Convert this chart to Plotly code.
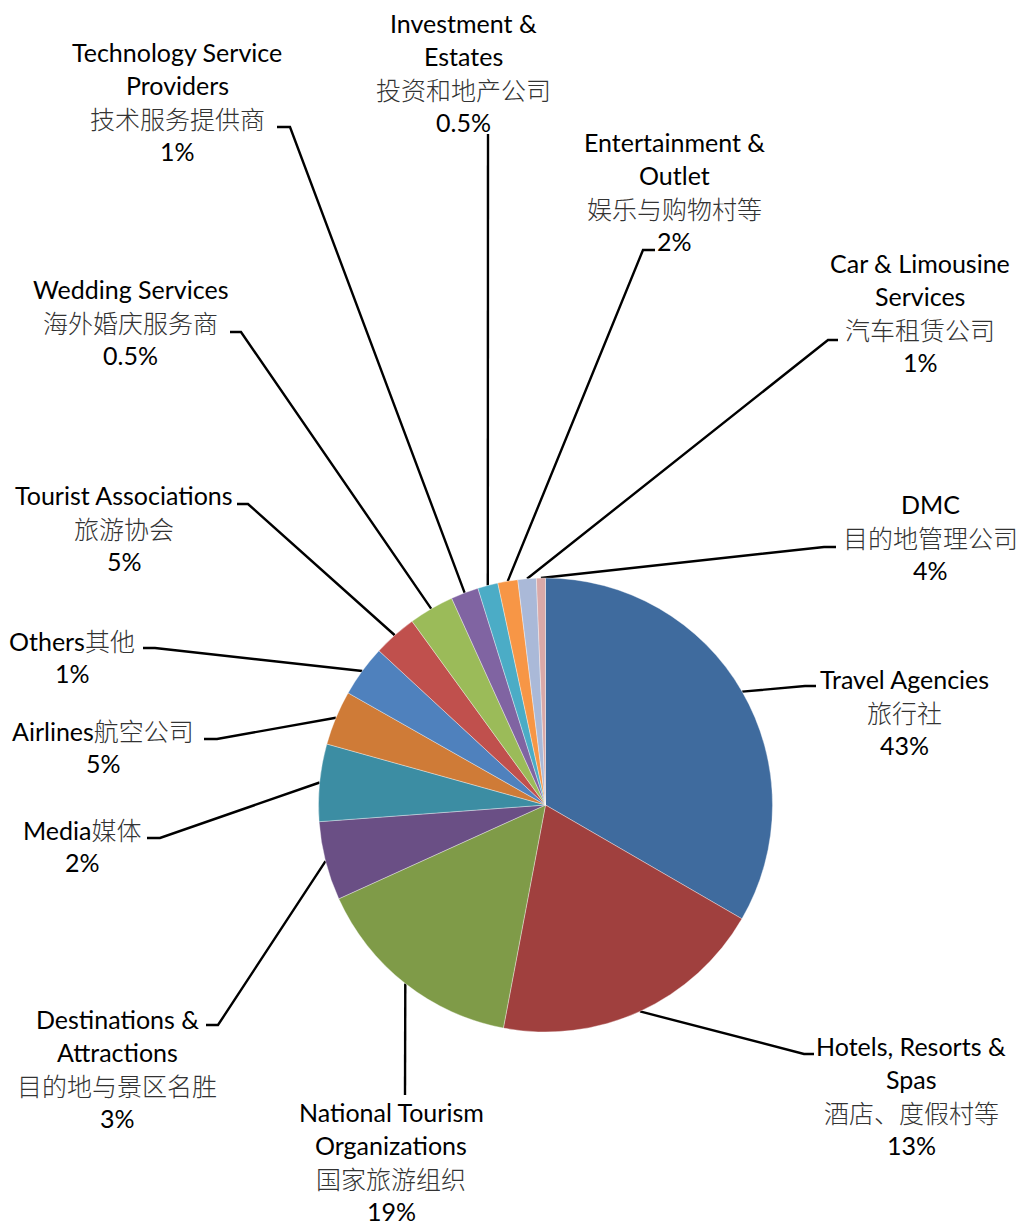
import math
import plotly.graph_objects as go

# ---------------- data ----------------
categories = [
    "Travel Agencies", "Hotels, Resorts & Spas", "National Tourism Organizations",
    "Destinations & Attractions", "Media", "Airlines", "Others",
    "Tourist Associations", "Wedding Services", "Technology Service Providers",
    "Investment & Estates", "Entertainment & Outlet", "Car & Limousine Services", "DMC",
]
values = [33.36, 19.61, 15.25, 5.61, 5.50, 3.89, 3.67, 3.11, 3.22, 1.97, 1.44, 1.42, 1.31, 0.64]
label_lines = [
    ["Travel Agencies", "旅行社", "43%"],
    ["Hotels, Resorts &", "Spas", "酒店、度假村等", "13%"],
    ["National Tourism", "Organizations", "国家旅游组织", "19%"],
    ["Destinations &", "Attractions", "目的地与景区名胜", "3%"],
    ["Media媒体", "2%"],
    ["Airlines航空公司", "5%"],
    ["Others其他", "1%"],
    ["Tourist Associations", "旅游协会", "5%"],
    ["Wedding Services", "海外婚庆服务商", "0.5%"],
    ["Technology Service", "Providers", "技术服务提供商", "1%"],
    ["Investment &", "Estates", "投资和地产公司", "0.5%"],
    ["Entertainment &", "Outlet", "娱乐与购物村等", "2%"],
    ["Car & Limousine", "Services", "汽车租赁公司", "1%"],
    ["DMC", "目的地管理公司", "4%"],
]

# ---------------- styles / layout ----------------
colors = ["#3F6B9E", "#A0403E", "#7F9B48", "#6A4F85", "#3C8DA3", "#CF7B37",
          "#4F81BD", "#C0504D", "#9BBB59", "#8064A2", "#4BACC6", "#F79646",
          "#AAB9D8", "#DAA9A8"]

PAGE_W, PAGE_H = 1024, 1225
OFF = 8  # default page body margin
W, H = PAGE_W - OFF, PAGE_H - OFF
PIE_CX, PIE_CY, PIE_R = 545.5, 805, 227
LINE_H = 33

# label block positions: (center x, first-line center y) in page pixels
label_pos = [(904, 680), (911, 1047), (391, 1113), (117, 1020), (82, 830), (103, 731),
             (72, 641), (124, 496), (130, 290), (177, 53), (463, 24), (674, 143),
             (920, 264), (930, 505)]
# leader line elbow and end points in page pixels
leader_elbow = [(805, 686), (804, 1054), (405, 1095), (218, 1025), (160, 838), (217, 739),
                (155, 648), (248, 504), (241, 332), (290, 127), (488, 134), (643, 250),
                (828, 340), (824, 547)]
leader_end = [(816, 686), (814, 1054), (405, 1095), (206, 1025), (147, 838), (204, 739),
              (143, 648), (237, 504), (230, 332), (277, 127), (488, 134), (655, 250),
              (838, 340), (836, 547)]

fig = go.Figure()

fig.add_trace(go.Pie(
    labels=categories, values=values, sort=False, direction="clockwise", rotation=0,
    marker=dict(colors=colors, line=dict(color="rgba(255,255,255,0.6)", width=0.6)),
    textinfo="none", hoverinfo="label+value", showlegend=False,
    domain=dict(x=[(PIE_CX - PIE_R - OFF) / W, (PIE_CX + PIE_R - OFF) / W],
                y=[1 - (PIE_CY + PIE_R - OFF) / H, 1 - (PIE_CY - PIE_R - OFF) / H]),
))

# leader lines: start at slice edge at mid-angle
total = sum(values)
cum = 0.0
for i, v in enumerate(values):
    mid = (cum + v / 2) / total * 2 * math.pi
    cum += v
    sx = PIE_CX + PIE_R * math.sin(mid)
    sy = PIE_CY - PIE_R * math.cos(mid)
    ex, ey = leader_elbow[i]
    tx, ty = leader_end[i]
    fig.add_trace(go.Scatter(
        x=[sx, ex, tx], y=[sy, ey, ty], mode="lines",
        line=dict(color="black", width=2.4), hoverinfo="skip", showlegend=False,
        xaxis="x", yaxis="y",
    ))


def is_cjk(c):
    return ord(c) > 0x2E80


CJK_STYLE = "font-family:'Noto Sans CJK SC';font-weight:300;color:#333333;font-size:25px"


def styled(line):
    # wrap CJK runs in a lighter CJK span, keep Latin text in Lato
    out, run = [], ""
    for c in line:
        if is_cjk(c):
            run += c
        else:
            if run:
                out.append(f'<span style="{CJK_STYLE}">{run}</span>')
                run = ""
            out.append(c)
    if run:
        out.append(f'<span style="{CJK_STYLE}">{run}</span>')
    return "".join(out)


annotations = []
for i, lines in enumerate(label_lines):
    cx, cy = label_pos[i]
    for j, line in enumerate(lines):
        if all(is_cjk(c) for c in line):
            font = dict(family="Noto Sans CJK SC", size=25, color="#333333", weight=300)
            text = line
        else:
            font = dict(family="Lato, Noto Sans CJK SC", size=25, color="black")
            text = styled(line)
        annotations.append(dict(
            x=cx, y=cy + j * LINE_H - 1, xref="x", yref="y", text=text, showarrow=False,
            xanchor="center", yanchor="middle", font=font, borderpad=0,
        ))

fig.update_layout(
    width=W, height=H, margin=dict(l=0, r=0, t=0, b=0),
    paper_bgcolor="white", plot_bgcolor="rgba(0,0,0,0)",
    xaxis=dict(range=[OFF, PAGE_W], visible=False, domain=[0, 1], fixedrange=True),
    yaxis=dict(range=[PAGE_H, OFF], visible=False, domain=[0, 1], fixedrange=True),
    annotations=annotations,
)

fig.write_html("out.html")
